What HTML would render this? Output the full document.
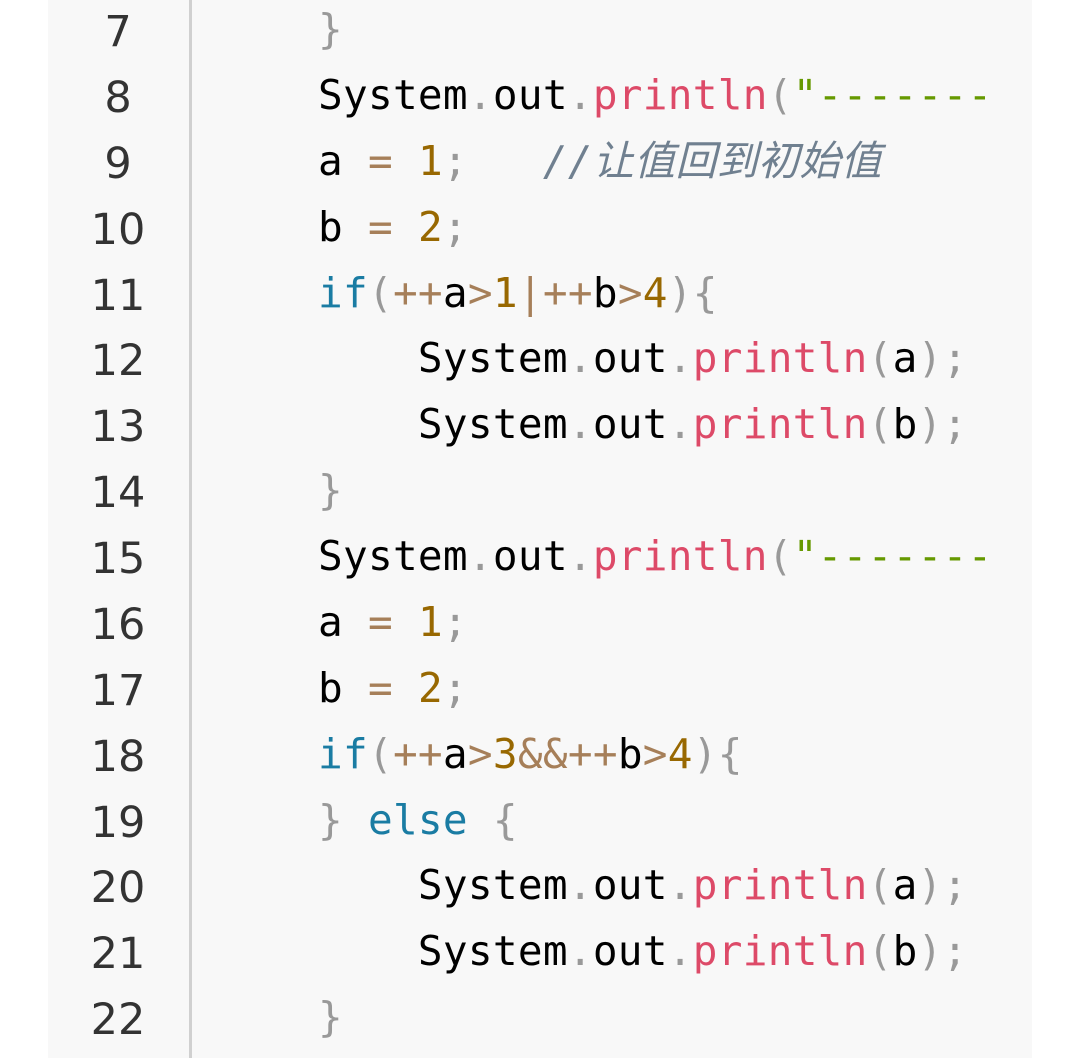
<!DOCTYPE html>
<html><head><meta charset="utf-8"><style>
html,body{margin:0;padding:0;background:#fff;width:1080px;height:1058px;overflow:hidden}
.panel{position:absolute;left:48px;top:0;width:984px;height:1058px;background:#f8f8f8}
.gut{position:absolute;left:189px;top:0;width:3px;height:1058px;background:#d0d0d0}
.nums{position:absolute;left:68px;top:0px;width:100px;font-family:"DejaVu Sans",sans-serif;font-size:43px;line-height:65.87px;color:#333;text-align:center}
.code{position:absolute;left:318px;top:-3px;width:667px;overflow:hidden;font-family:"DejaVu Sans Mono","Liberation Mono","Noto Sans CJK SC",monospace;font-size:41px;letter-spacing:0.3px;line-height:65.87px;color:#000;white-space:pre}
.p{color:#999}.o{color:#a67f59}.n{color:#986801}.k{color:#1a7ca3}.f{color:#dd4a68}.s{color:#669900}.c{color:#708090;font-style:italic;font-family:"DejaVu Sans Mono","Noto Sans CJK SC",monospace}
</style></head><body>
<div class="panel"></div><div class="gut"></div>
<div class="nums">7<br>8<br>9<br>10<br>11<br>12<br>13<br>14<br>15<br>16<br>17<br>18<br>19<br>20<br>21<br>22</div>
<div class="code"><span class="p">}</span>
System<span class="p">.</span>out<span class="p">.</span><span class="f">println</span><span class="p">(</span><span class="s">"--------------</span>
a <span class="o">=</span> <span class="n">1</span><span class="p">;</span>   <span class="c">//让值回到初始值</span>
b <span class="o">=</span> <span class="n">2</span><span class="p">;</span>
<span class="k">if</span><span class="p">(</span><span class="o">++</span>a<span class="o">&gt;</span><span class="n">1</span><span class="o">|</span><span class="o">++</span>b<span class="o">&gt;</span><span class="n">4</span><span class="p">){</span>
    System<span class="p">.</span>out<span class="p">.</span><span class="f">println</span><span class="p">(</span>a<span class="p">);</span>
    System<span class="p">.</span>out<span class="p">.</span><span class="f">println</span><span class="p">(</span>b<span class="p">);</span>
<span class="p">}</span>
System<span class="p">.</span>out<span class="p">.</span><span class="f">println</span><span class="p">(</span><span class="s">"--------------</span>
a <span class="o">=</span> <span class="n">1</span><span class="p">;</span>
b <span class="o">=</span> <span class="n">2</span><span class="p">;</span>
<span class="k">if</span><span class="p">(</span><span class="o">++</span>a<span class="o">&gt;</span><span class="n">3</span><span class="o">&amp;&amp;++</span>b<span class="o">&gt;</span><span class="n">4</span><span class="p">){</span>
<span class="p">}</span> <span class="k">else</span> <span class="p">{</span>
    System<span class="p">.</span>out<span class="p">.</span><span class="f">println</span><span class="p">(</span>a<span class="p">);</span>
    System<span class="p">.</span>out<span class="p">.</span><span class="f">println</span><span class="p">(</span>b<span class="p">);</span>
<span class="p">}</span></div>
</body></html>
